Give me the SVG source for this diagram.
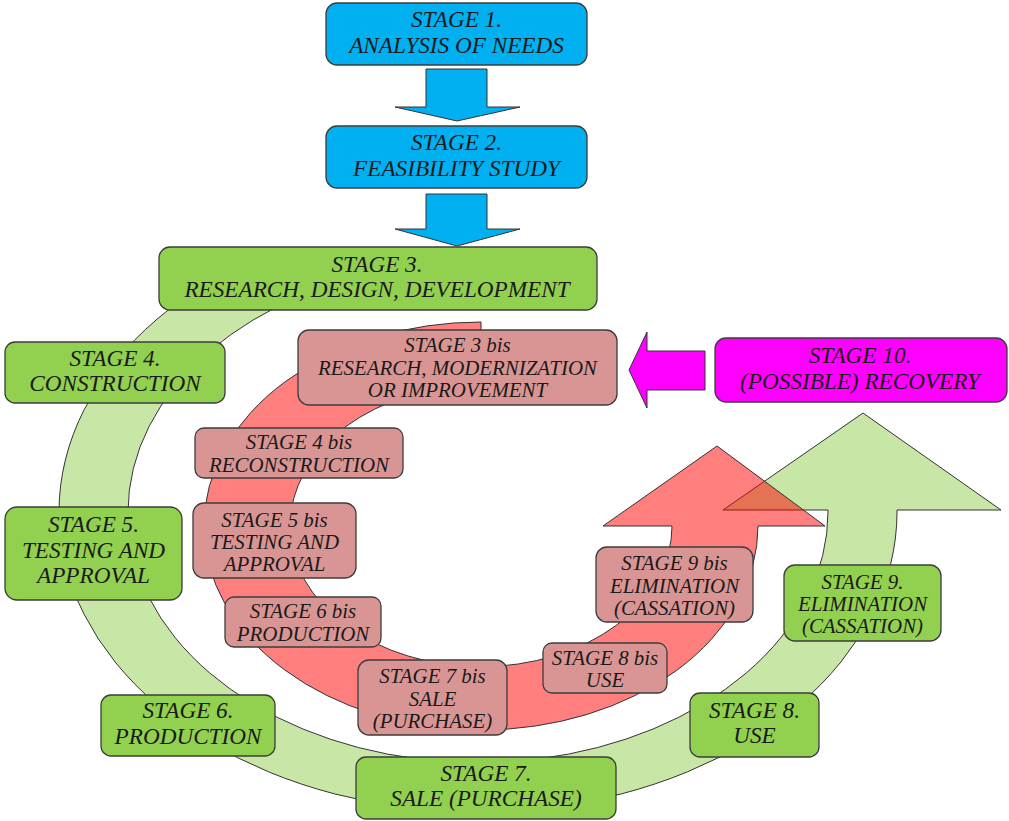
<svg xmlns="http://www.w3.org/2000/svg" width="1009" height="821" viewBox="0 0 1009 821">
  <style>
    .box { stroke: #3c3c3c; stroke-width: 1.3; }
    .blue { fill: #00b0f0; }
    .green { fill: #92d050; }
    .bis { fill: #d99594; }
    .mag { fill: #ff00ff; }
    .t { font-family: "Liberation Serif", "Times New Roman", serif; font-style: italic; font-size: 23.2px; fill: #1a1a1a; text-anchor: middle; }
    .s { font-size: 20.9px; }
    .arrow { stroke: #333333; stroke-width: 1; stroke-linejoin: miter; }
  </style>
  <rect width="1009" height="821" fill="#ffffff"/>

  <!-- connectors: cycle arrows and flow arrows -->
  <g id="connectors">
    <!-- main life cycle (light green, translucent) -->
    <path class="arrow" fill="#92d050" fill-opacity="0.5" d="M 268.5 252.2 A 419 300 0 1 0 897 512 L 897 510 L 1001 510 L 863 413 L 723 510 L 828 510 L 828 512 A 350 250.6 0 1 1 303 295 Z"/>
    <!-- secondary cycle (red, translucent) -->
    <path class="arrow" fill="#ff0000" fill-opacity="0.5" d="M 481 322 A 277 204 0 1 0 758 526 L 825 526 L 717 446 L 603 526 L 672 526 A 191 140.7 0 1 1 481 385.3 Z"/>
    <!-- recovery feeds back into stage 3 bis -->
    <polygon class="arrow mag" points="629,370 647,332 647,351 705,351 705,390 647,390 647,408"/>
    <!-- stage 1 -> stage 2 -->
    <polygon class="arrow blue" points="426,69 487,69 487,107 520,107 457,121 395,107 426,107"/>
    <!-- stage 2 -> stage 3 -->
    <polygon class="arrow blue" points="426,194 487,194 487,229 520,229 457,246 395,229 426,229"/>
  </g>

  <g id="stage1">
    <rect class="box blue" x="326" y="3" width="261" height="62" rx="11"/>
    <text class="t" x="456.5" y="27">STAGE 1.</text>
    <text class="t" x="456.5" y="52.5">ANALYSIS OF NEEDS</text>
  </g>
  <g id="stage2">
    <rect class="box blue" x="326" y="126" width="261" height="62" rx="11"/>
    <text class="t" x="456.5" y="150">STAGE 2.</text>
    <text class="t" x="456.5" y="175.5">FEASIBILITY STUDY</text>
  </g>
  <g id="stage3">
    <rect class="box green" x="159" y="247" width="438" height="63" rx="11"/>
    <text class="t" x="377" y="271.5">STAGE 3.</text>
    <text class="t" x="377" y="297">RESEARCH, DESIGN, DEVELOPMENT</text>
  </g>
  <g id="stage3bis">
    <rect class="box bis" x="298" y="330" width="319" height="75" rx="11"/>
    <text class="t s" x="457.5" y="352">STAGE 3 bis</text>
    <text class="t s" x="457.5" y="374.5">RESEARCH, MODERNIZATION</text>
    <text class="t s" x="457.5" y="397">OR IMPROVEMENT</text>
  </g>
  <g id="stage10">
    <rect class="box mag" x="715" y="338" width="292" height="64" rx="11"/>
    <text class="t" x="860" y="363">STAGE 10.</text>
    <text class="t" x="860" y="388.5">(POSSIBLE) RECOVERY</text>
  </g>
  <g id="stage4">
    <rect class="box green" x="5" y="342" width="220" height="61" rx="10"/>
    <text class="t" x="115" y="365.5">STAGE 4.</text>
    <text class="t" x="115" y="391">CONSTRUCTION</text>
  </g>
  <g id="stage4bis">
    <rect class="box bis" x="195" y="428" width="208" height="50" rx="9"/>
    <text class="t s" x="299" y="449">STAGE 4 bis</text>
    <text class="t s" x="299" y="471.5">RECONSTRUCTION</text>
  </g>
  <g id="stage5">
    <rect class="box green" x="5" y="507" width="177" height="93" rx="12"/>
    <text class="t" x="93.5" y="532">STAGE 5.</text>
    <text class="t" x="93.5" y="557.5">TESTING AND</text>
    <text class="t" x="93.5" y="583">APPROVAL</text>
  </g>
  <g id="stage5bis">
    <rect class="box bis" x="193" y="503" width="163" height="75" rx="11"/>
    <text class="t s" x="274.5" y="526.5">STAGE 5 bis</text>
    <text class="t s" x="274.5" y="548.5">TESTING AND</text>
    <text class="t s" x="274.5" y="570.5">APPROVAL</text>
  </g>
  <g id="stage6bis">
    <rect class="box bis" x="225" y="597" width="156" height="50" rx="9"/>
    <text class="t s" x="303" y="618">STAGE 6 bis</text>
    <text class="t s" x="303" y="640.5">PRODUCTION</text>
  </g>
  <g id="stage6">
    <rect class="box green" x="101" y="695" width="174" height="61" rx="10"/>
    <text class="t" x="188" y="718">STAGE 6.</text>
    <text class="t" x="188" y="743.5">PRODUCTION</text>
  </g>
  <g id="stage7bis">
    <rect class="box bis" x="358" y="660" width="149" height="75" rx="11"/>
    <text class="t s" x="432.5" y="683">STAGE 7 bis</text>
    <text class="t s" x="432.5" y="705.5">SALE</text>
    <text class="t s" x="432.5" y="727.5">(PURCHASE)</text>
  </g>
  <g id="stage7">
    <rect class="box green" x="356" y="757" width="260" height="62" rx="10"/>
    <text class="t" x="486" y="780.5">STAGE 7.</text>
    <text class="t" x="486" y="806">SALE (PURCHASE)</text>
  </g>
  <g id="stage8bis">
    <rect class="box bis" x="543" y="643" width="124" height="50" rx="9"/>
    <text class="t s" x="605" y="664.5">STAGE 8 bis</text>
    <text class="t s" x="605" y="686.5">USE</text>
  </g>
  <g id="stage9bis">
    <rect class="box bis" x="596" y="547" width="157" height="75" rx="11"/>
    <text class="t s" x="674.5" y="570">STAGE 9 bis</text>
    <text class="t s" x="674.5" y="592.5">ELIMINATION</text>
    <text class="t s" x="674.5" y="614.5">(CASSATION)</text>
  </g>
  <g id="stage9">
    <rect class="box green" x="784" y="565" width="157" height="76" rx="11"/>
    <text class="t s" x="862.5" y="588.5">STAGE 9.</text>
    <text class="t s" x="862.5" y="610.5">ELIMINATION</text>
    <text class="t s" x="862.5" y="632.5">(CASSATION)</text>
  </g>
  <g id="stage8">
    <rect class="box green" x="690" y="693" width="129" height="64" rx="10"/>
    <text class="t" x="754.5" y="717.5">STAGE 8.</text>
    <text class="t" x="754.5" y="743">USE</text>
  </g>
</svg>
